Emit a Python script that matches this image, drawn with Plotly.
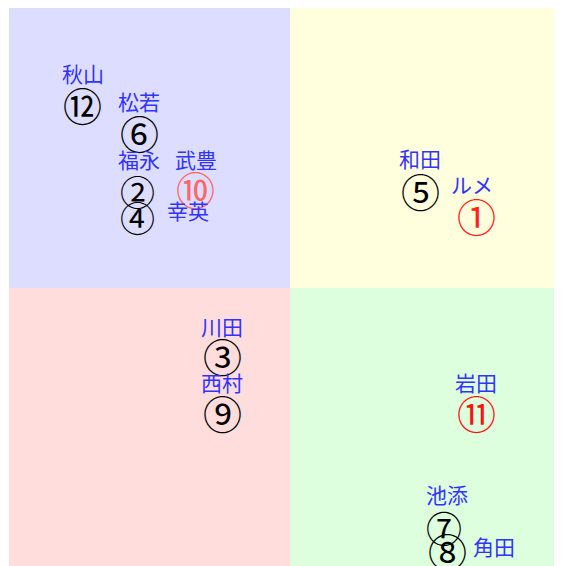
import plotly.graph_objects as go

# data
numbers = ["①", "②", "③", "④", "⑤", "⑥", "⑦", "⑧", "⑨", "⑩", "⑪", "⑫"]
jockeys = ["ルメ", "福永", "川田", "幸英", "和田", "松若", "池添", "角田", "西村", "武豊", "岩田", "秋山"]
x_vals = [6.62, -5.44, -2.42, -5.44, 4.63, -5.37, 5.48, 5.59, -2.42, -3.35, 6.62, -7.37]
y_vals = [2.50, 3.39, -2.50, 2.43, 3.39, 5.46, -8.64, -9.46, -4.54, 3.46, -4.54, 6.46]

# styles
num_colors = ["#ff2222", "black", "black", "black", "black", "black", "black", "black",
              "black", "#ff6666", "#ff1111", "black"]
num_sizes = [39, 35, 39, 35, 39, 39, 36, 39, 39, 39, 39, 39]
label_dx = [-4, 2, 0, 51, 0, 0, 3, 47, 0, 0, 0, 0]
label_dy = [34, 34, 32, 10, 35, 34, 36, 7, 33, 32, 33, 34]
num_dy = 3

fig = go.Figure()

quads = [
    (-10, 0, 0, 10, "#ddddff"),
    (0, 10, 0, 10, "#ffffdd"),
    (-10, 0, -10, 0, "#ffdddd"),
    (0, 10, -10, 0, "#ddffdd"),
]
for x0, x1, y0, y1, c in quads:
    fig.add_shape(type="rect", x0=x0, x1=x1, y0=y0, y1=y1, fillcolor=c,
                  line=dict(width=0), layer="below")

# invisible anchor trace so the axes own the points
fig.add_trace(go.Scatter(x=x_vals, y=y_vals, mode="markers", marker=dict(opacity=0),
                         hoverinfo="skip", showlegend=False))

for xv, yv, num, col, sz in zip(x_vals, y_vals, numbers, num_colors, num_sizes):
    fig.add_annotation(x=xv, y=yv, text=num, showarrow=False, yshift=num_dy,
                       font=dict(family="Noto Sans CJK JP", size=sz, color=col))

for xv, yv, name, dx, dy in zip(x_vals, y_vals, jockeys, label_dx, label_dy):
    fig.add_annotation(x=xv, y=yv, text=name, showarrow=False, xshift=dx, yshift=dy,
                       font=dict(family="Noto Sans CJK JP", size=21, color="#3333ff"))

# plot area: x 9..562 (mid 290), y 8..566 (mid 288)
fig.update_xaxes(range=[-10, 10 * 272 / 281], visible=False, showgrid=False, zeroline=False)
fig.update_yaxes(range=[-10 * 278 / 280, 10], visible=False, showgrid=False, zeroline=False)
fig.update_layout(
    width=554, height=558,
    margin=dict(l=1, r=0, t=0, b=0),
    paper_bgcolor="white", plot_bgcolor="white",
)
fig.write_html("out.html")
